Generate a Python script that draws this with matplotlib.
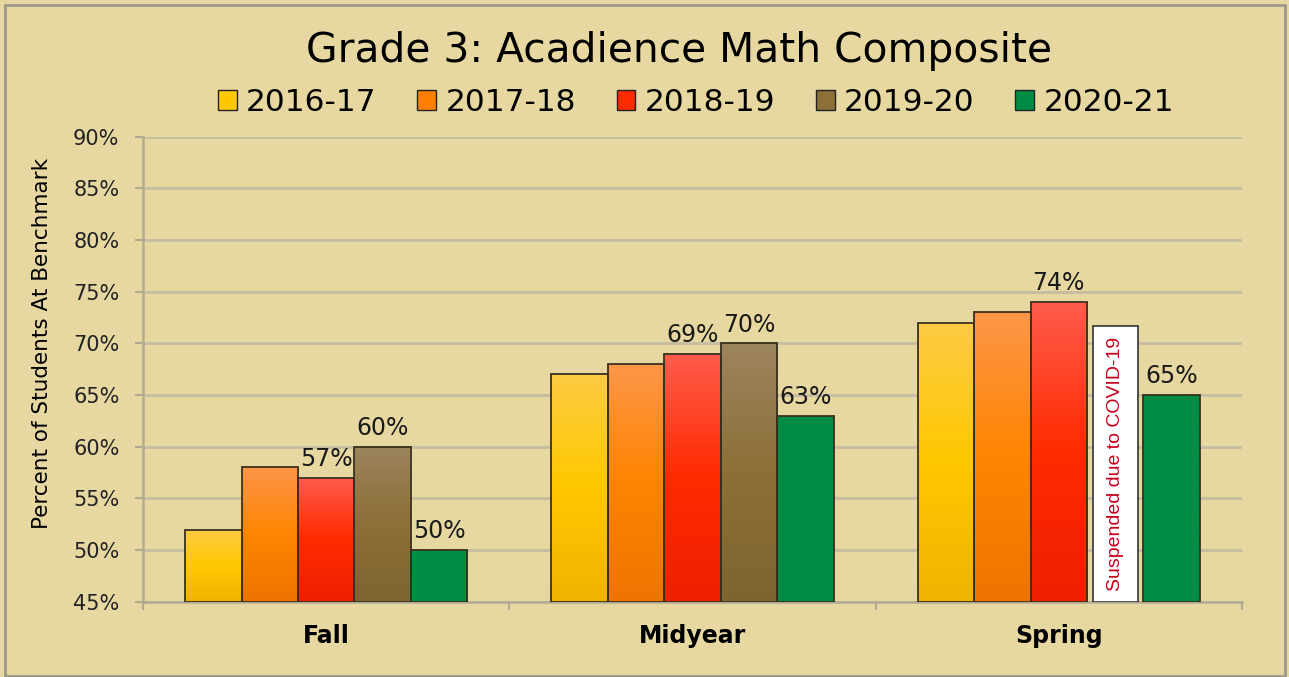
import matplotlib
matplotlib.use("Agg")
import matplotlib.pyplot as plt
import numpy as np
from matplotlib.colors import LinearSegmentedColormap
from matplotlib.patches import Rectangle, Patch

categories = ["Fall", "Midyear", "Spring"]
series = ["2016-17", "2017-18", "2018-19", "2019-20", "2020-21"]
v_2016 = [52, 67, 72]
v_2017 = [58, 68, 73]
v_2018 = [57, 69, 74]
v_2019 = [60, 70, None]
v_2020 = [50, 63, 65]
values = [v_2016, v_2017, v_2018, v_2019, v_2020]
labeled = [False, False, True, True, True]
suspended_height = 71.7
suspended_text = "Suspended due to COVID-19"

grads = [
    ["#F0B300", "#FFC800", "#FCCB44"],
    ["#EE7400", "#FF8400", "#FC9648"],
    ["#EE2000", "#FF2A00", "#FF5C4C"],
    ["#7E6430", "#8C7038", "#9C845E"],
    ["#008C44", "#008C44", "#008C44"],
]
legend_colors = ["#FFC800", "#FF8000", "#FF2A00", "#8C7038", "#008C44"]

bg = "#E6D8A0"
fig = plt.figure(figsize=(12.89, 6.77), dpi=100, facecolor=bg)
ax = fig.add_axes([0.111, 0.111, 0.8525, 0.687])
ax.set_facecolor(bg)

ymin, ymax = 45, 90
n = len(series)
w = 0.77 / n
x = np.arange(len(categories))

for i, (vals, g) in enumerate(zip(values, grads)):
    cmap = LinearSegmentedColormap.from_list("g%d" % i, g)
    for j, v in enumerate(vals):
        xc = x[j] + (i - (n - 1) / 2) * w
        if v is None:
            ax.bar(xc, suspended_height - ymin, width=w * 0.8, bottom=ymin,
                   color="white", edgecolor="#333333", linewidth=1.2, zorder=3)
            ax.text(xc, ymin + (suspended_height - ymin) / 2, suspended_text,
                    rotation=90, ha="center", va="center", color="#C8001A",
                    fontsize=14, family="Liberation Sans", zorder=5)
            continue
        ax.bar(xc, v - ymin, width=w, bottom=ymin, color="none",
               edgecolor="#3A3020", linewidth=1.3, zorder=4)
        grad = np.linspace(0, 1, 256).reshape(-1, 1)
        im = ax.imshow(grad, cmap=cmap, origin="lower", aspect="auto",
                       extent=(xc - w / 2, xc + w / 2, ymin, v), zorder=3,
                       interpolation="bicubic")
        clip = Rectangle((xc - w / 2, ymin), w, v - ymin, transform=ax.transData)
        im.set_clip_path(clip)
        if labeled[i]:
            ax.annotate(f"{v}%", (xc, v), xytext=(0, 5), textcoords="offset points",
                        ha="center", va="bottom", fontsize=17, color="#1a1a1a",
                        family="DejaVu Sans", zorder=6)

ax.set_xlim(-0.5, 2.5)
ax.set_ylim(ymin, ymax)

ax.set_yticks(np.arange(45, 91, 5))
ax.set_yticklabels([f"{t}%" for t in range(45, 91, 5)], fontsize=15,
                   family="DejaVu Sans", color="#222222")
ax.yaxis.grid(True, color="#C4BDA0", linewidth=2, zorder=0)
ax.set_axisbelow(True)

ax.set_xticks(x)
ax.set_xticklabels(categories, fontsize=17, fontweight="bold", family="DejaVu Sans")
ax.set_xticks([-0.5, 0.5, 1.5, 2.5], minor=True)
ax.tick_params(axis="x", which="major", length=0, pad=16)
ax.tick_params(axis="x", which="minor", length=6, color="#B0AA90", width=1.5)
ax.tick_params(axis="y", length=6, color="#B0AA90", width=1.5, pad=11)

for s in ["top", "right"]:
    ax.spines[s].set_visible(False)
for s in ["left", "bottom"]:
    ax.spines[s].set_color("#B0AA90")
    ax.spines[s].set_linewidth(1.8)

ax.set_ylabel("Percent of Students At Benchmark", fontsize=15.5, family="DejaVu Sans")
ax.yaxis.set_label_coords(-0.083, 0.555)

fig.text(0.527, 0.925, "Grade 3: Acadience Math Composite", ha="center", va="center",
         fontsize=29.3, family="DejaVu Sans")

handles = [Patch(facecolor=c, edgecolor="#222222", linewidth=1) for c in legend_colors]
fig.legend(handles, series, loc="center", bbox_to_anchor=(0.54, 0.849), ncol=5,
           frameon=False, handlelength=0.6, handleheight=0.6,
           handletextpad=0.3, columnspacing=1.3,
           prop={"family": "DejaVu Sans", "size": 22.5})

fig.patches.append(Rectangle((0.004, 0.002), 0.993, 0.99, transform=fig.transFigure,
                             fill=False, edgecolor="#9A9A8A", linewidth=2))

fig.savefig("out.png", dpi=100, facecolor=bg)
